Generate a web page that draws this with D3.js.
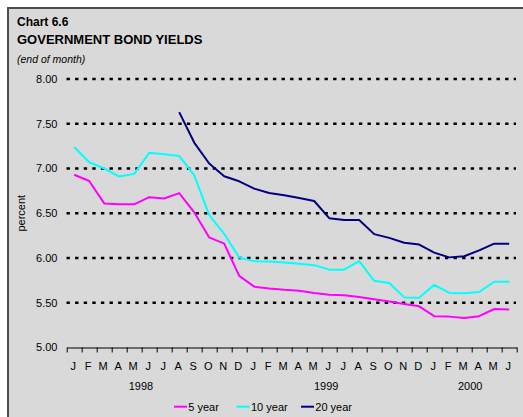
<!DOCTYPE html>
<html>
<head>
<meta charset="utf-8">
<script src="https://cdn.jsdelivr.net/npm/d3@7"></script>
<style>
  html, body { margin: 0; padding: 0; background: #ffffff; }
  svg { display: block; font-family: Arial, "Liberation Sans", sans-serif; }
</style>
</head>
<body>
<svg id="chart" width="523" height="417"></svg>
<script>
// ---- data ----
const months = ["J","F","M","A","M","J","J","A","S","O","N","D",
                "J","F","M","A","M","J","J","A","S","O","N","D",
                "J","F","M","A","M","J"];
const yearLabels = ["1998", "1999", "2000"];
const yearLabelAt = [4.45, 16.8, 26.4];   // month index under which each year label sits
const yTicks = [5.0, 5.5, 6.0, 6.5, 7.0, 7.5, 8.0];
const seriesNames = ["5 year", "10 year", "20 year"];
const yield5 = [6.93, 6.86, 6.61, 6.60, 6.60, 6.68, 6.665, 6.725, 6.51, 6.23, 6.16, 5.80,
                5.68, 5.66, 5.645, 5.635, 5.61, 5.59, 5.585, 5.565, 5.54, 5.515, 5.485, 5.46,
                5.35, 5.345, 5.33, 5.35, 5.43, 5.425];
const yield10 = [7.24, 7.07, 7.00, 6.91, 6.94, 7.175, 7.16, 7.14, 6.925, 6.48, 6.27, 6.005,
                 5.965, 5.96, 5.95, 5.935, 5.92, 5.87, 5.87, 5.965, 5.745, 5.72, 5.56, 5.556,
                 5.70, 5.61, 5.605, 5.62, 5.735, 5.735];
const yield20 = [null, null, null, null, null, null, null, 7.63, 7.29, 7.056, 6.914, 6.857,
                 6.775, 6.726, 6.70, 6.67, 6.637, 6.445, 6.425, 6.425, 6.267, 6.225, 6.17, 6.15,
                 6.06, 6.007, 6.02, 6.085, 6.16, 6.16];
const seriesColors = ["#ff00ff", "#00ffff", "#000080"];

// ---- layout ----
const svg = d3.select("#chart");
const W = 523, H = 417;

// frame
svg.append("rect").attr("x", 8).attr("y", 8).attr("width", W + 20).attr("height", H + 20)
  .attr("fill", "#d9d9d9").attr("stroke", "#4d4d4d").attr("stroke-width", 2);

// titles
svg.append("text").attr("x", 17).attr("y", 26).attr("font-size", 12).attr("font-weight", "bold")
  .attr("fill", "#000").text("Chart 6.6");
svg.append("text").attr("x", 17).attr("y", 43.5).attr("font-size", 13).attr("font-weight", "bold")
  .attr("fill", "#000").text("GOVERNMENT BOND YIELDS");
svg.append("text").attr("x", 17).attr("y", 62.5).attr("font-size", 10.5).attr("font-style", "italic")
  .attr("fill", "#000").text("(end of month)");

// scales
const x = d3.scaleBand().domain(d3.range(months.length)).range([66.7, 516.7]).padding(0);
const cx = i => x(0) + x.bandwidth() * (i + 0.5);
const y = d3.scaleLinear().domain([5, 8]).range([347.5, 79]);

// gridlines (dotted) excluding baseline
svg.append("g").selectAll("line").data(yTicks.filter(d => d > 5)).join("line")
  .attr("x1", 66.5).attr("x2", 516).attr("y1", d => y(d)).attr("y2", d => y(d))
  .attr("stroke", "#000").attr("stroke-width", 2.6).attr("stroke-dasharray", "3.4,5.2");

// y tick labels
svg.append("g").selectAll("text").data(yTicks).join("text")
  .attr("x", 57.5).attr("y", d => y(d)).attr("dy", "0.35em").attr("text-anchor", "end")
  .attr("font-size", 11).attr("fill", "#000").text(d => d3.format(".2f")(d));

// y axis title
svg.append("text").attr("transform", `translate(${24.5},${y(6.5)}) rotate(-90)`)
  .attr("text-anchor", "middle").attr("font-size", 11).attr("fill", "#000").text("percent");

// x axis: baseline and ticks at band boundaries
const xAxis = d3.axisBottom(d3.scaleLinear().domain([0, months.length]).range([x(0), x(0) + x.bandwidth() * months.length]))
  .ticks(months.length).tickValues(d3.range(months.length + 1)).tickSize(5).tickSizeOuter(0).tickFormat("");
const gx = svg.append("g").attr("transform", `translate(0,${y(5)})`).call(xAxis);
gx.select(".domain").attr("stroke", "#000").attr("stroke-width", 1);
gx.selectAll(".tick line").attr("stroke", "#000").attr("stroke-width", 1);

// month labels
svg.append("g").selectAll("text").data(months).join("text")
  .attr("x", (d, i) => cx(i) - 1).attr("y", 370).attr("text-anchor", "middle")
  .attr("font-size", 11).attr("fill", "#000").text(d => d);

// year labels
svg.append("g").selectAll("text").data(yearLabels).join("text")
  .attr("x", (d, i) => cx(yearLabelAt[i])).attr("y", 389.5).attr("text-anchor", "middle")
  .attr("font-size", 11).attr("fill", "#000").text(d => d);

// lines
const allSeries = [yield5, yield10, yield20];
const line = d3.line().defined(d => d != null).x((d, i) => cx(i)).y(d => y(d));
svg.append("g").selectAll("path").data(allSeries).join("path")
  .attr("d", d => line(d)).attr("fill", "none")
  .attr("stroke", (d, i) => seriesColors[i]).attr("stroke-width", 2)
  .attr("stroke-linejoin", "round");

// legend
const legendX = [174, 236.7, 301];
const lg = svg.append("g").selectAll("g").data(seriesNames).join("g")
  .attr("transform", (d, i) => `translate(${legendX[i]},406.7)`);
lg.append("line").attr("x1", 0).attr("x2", 13).attr("y1", 0).attr("y2", 0)
  .attr("stroke", (d, i) => seriesColors[i]).attr("stroke-width", 2);
lg.append("text").attr("x", 14.3).attr("y", 0).attr("dy", "0.35em")
  .attr("font-size", 11).attr("fill", "#000").text(d => d);
</script>
</body>
</html>
